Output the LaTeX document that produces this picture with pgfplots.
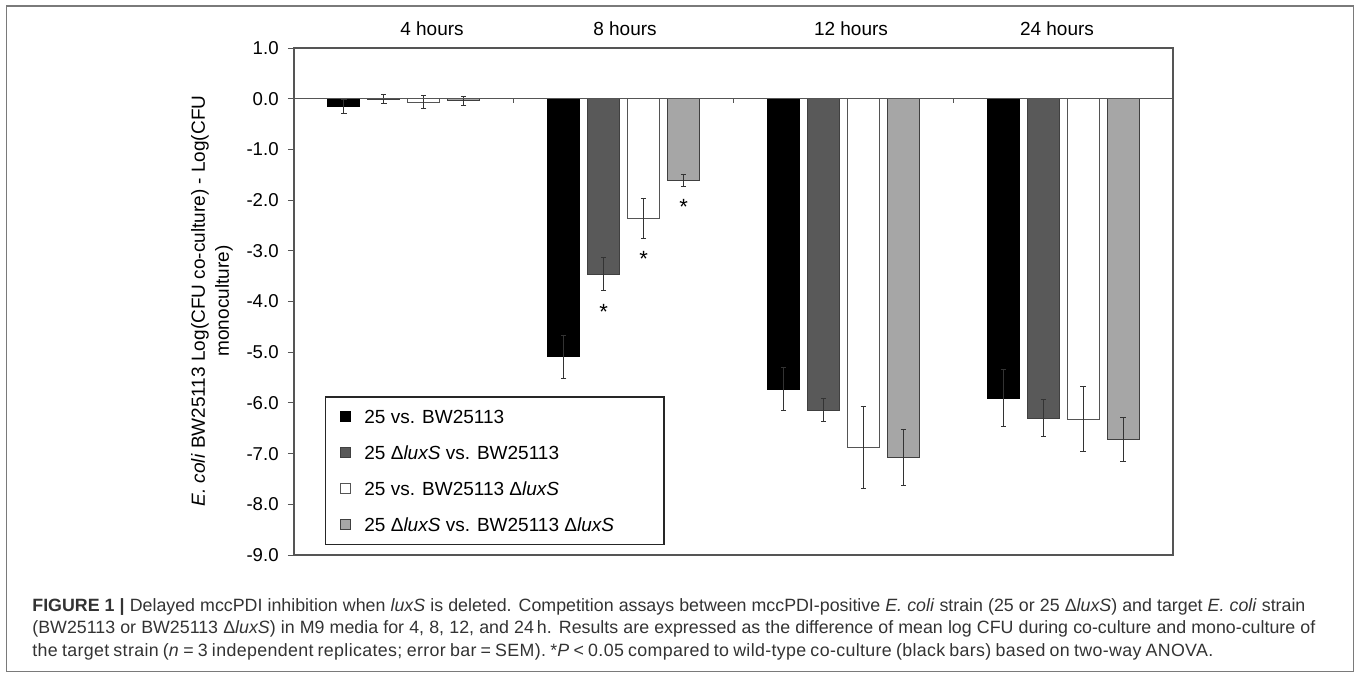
\documentclass[border=0pt]{standalone}
\usepackage{pgfplots}
\pgfplotsset{compat=1.18}
\usepackage{fontspec}
\setmainfont{Liberation Sans}
\definecolor{dkgray}{HTML}{595959}
\definecolor{ltgray}{HTML}{A6A6A6}
\definecolor{axgray}{HTML}{555555}
\definecolor{edge}{HTML}{404040}
\definecolor{framegray}{HTML}{7A7A7A}
\definecolor{captxt}{HTML}{333333}
\pgfplotsset{mybar/.style={ybar, bar width=0.1456, bar shift=0pt, line width=0.5pt,
     error bars/y dir=both, error bars/y explicit,
     error bars/error bar style={line width=0.5pt, color=black!80},
     error bars/error mark options={rotate=90, line width=0.5pt, color=black!80, mark size=1.3pt}}}
\begin{document}
\begin{tikzpicture}
\useasboundingbox (0,0) rectangle (678.5pt,338.5pt);
\draw[framegray, line width=0.8pt] (3.25pt,2.75pt) rectangle (676.75pt,335.5pt);
\begin{axis}[
  scale only axis, width=439.5pt, height=253.5pt,
  at={(147pt,61pt)}, anchor=south west,
  xmin=0, xmax=4, ymin=-9, ymax=1,
  xtick=\empty,
  ytick={-9,-8,...,1},
  yticklabels={-9.0,-8.0,-7.0,-6.0,-5.0,-4.0,-3.0,-2.0,-1.0,0.0,1.0},
  ytick pos=left, tick align=outside, major tick length=3pt,
  tick style={axgray, line width=0.5pt},
  axis line style={axgray, line width=0.6pt},
  yticklabel style={font=\fontsize{9.3}{10}\selectfont, inner sep=0pt, xshift=-4.5pt},
  clip=false,
  legend style={at={(0.0353,0.0197)}, anchor=south west, draw=black!85, line width=0.6pt,
     font=\fontsize{9.5}{11.5}\selectfont, inner xsep=7pt, inner ysep=3pt, row sep=4.5pt,
     /tikz/every odd column/.append style={column sep=5pt}},
  legend cell align=left,
  legend image code/.code={\draw[#1, line width=0.4pt] (0pt,-2.5pt) rectangle (5pt,2.5pt);},
]
\addplot[mybar, fill=black, draw=black] coordinates {
 (0.2273,-0.15) +- (0,0.14)
 (1.2273,-5.09) +- (0,0.42)
 (2.2273,-5.73) +- (0,0.42)
 (3.2273,-5.91) +- (0,0.56)};
\addlegendentry{25 vs. BW25113\strut}
\addplot[mybar, fill=dkgray, draw=edge] coordinates {
 (0.4091,-0.01) +- (0,0.09)
 (1.4091,-3.46) +- (0,0.32)
 (2.4091,-6.14) +- (0,0.23)
 (3.4091,-6.30) +- (0,0.37)};
\addlegendentry{25 Δ\textit{luxS} vs. BW25113\strut}
\addplot[mybar, fill=white, draw=axgray] coordinates {
 (0.5909,-0.065) +- (0,0.125)
 (1.5909,-2.36) +- (0,0.40)
 (2.5909,-6.88) +- (0,0.80)
 (3.5909,-6.32) +- (0,0.64)};
\addlegendentry{25 vs. BW25113 Δ\textit{luxS}\strut}
\addplot[mybar, fill=ltgray, draw=edge] coordinates {
 (0.7727,-0.045) +- (0,0.085)
 (1.7727,-1.61) +- (0,0.12)
 (2.7727,-7.07) +- (0,0.55)
 (3.7727,-6.72) +- (0,0.43)};
\addlegendentry{25 Δ\textit{luxS} vs. BW25113 Δ\textit{luxS}\strut\hspace*{16pt}}
\draw[axgray, line width=0.6pt] (axis cs:0,0) -- (axis cs:4,0);
\draw[axgray, line width=0.5pt] (axis cs:1,0) -- (axis cs:1,-0.08);
\draw[axgray, line width=0.5pt] (axis cs:2,0) -- (axis cs:2,-0.08);
\draw[axgray, line width=0.5pt] (axis cs:3,0) -- (axis cs:3,-0.08);
\node[font=\fontsize{11}{12}\selectfont] at (axis cs:1.4091,-4.20) {*};
\node[font=\fontsize{11}{12}\selectfont] at (axis cs:1.5909,-3.17) {*};
\node[font=\fontsize{11}{12}\selectfont] at (axis cs:1.7727,-2.14) {*};
\end{axis}
% hour labels
\begin{scope}[every node/.style={font=\fontsize{9.5}{11}\selectfont, anchor=base, inner sep=0pt}]
\node at (216pt,321pt) {4 hours};
\node at (312.5pt,321pt) {8 hours};
\node at (425.5pt,321pt) {12 hours};
\node at (528.5pt,321pt) {24 hours};
\end{scope}
% y label
\node[rotate=90, align=center, font=\fontsize{9.5}{12}\selectfont, inner sep=0pt] at (106pt,188pt)
  {\textit{E. coli} BW25113 Log(CFU co-culture) - Log(CFU\\monoculture)};
% caption
\begin{scope}[every node/.style={font=\fontsize{8.9}{11}\selectfont, anchor=base west, inner sep=0pt, text=captxt}]
\node at (16pt,33pt) {\hbox to 636.5pt{\textbf{FIGURE 1 |} Delayed mccPDI inhibition when \textit{luxS} is deleted. Competition assays between mccPDI-positive \textit{E. coli} strain (25 or 25 Δ\textit{luxS}) and target \textit{E. coli} strain}};
\node at (16pt,21.75pt) {\hbox to 641.5pt{(BW25113 or BW25113 Δ\textit{luxS}) in M9 media for 4, 8, 12, and 24\,h. Results are expressed as the difference of mean log CFU during co-culture and mono-culture of}};
\node at (16pt,10.5pt) {\addfontfeatures{LetterSpace=2}\hbox to 590.5pt{the target strain (\textit{n} = 3 independent replicates; error bar = SEM). *\textit{P} < 0.05 compared to wild-type co-culture (black bars) based on two-way ANOVA.}};
\end{scope}
\end{tikzpicture}
\end{document}
